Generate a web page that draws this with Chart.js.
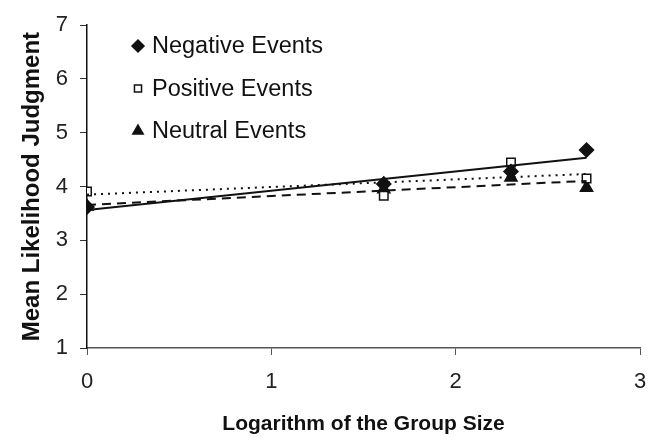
<!DOCTYPE html>
<html>
<head>
<meta charset="utf-8">
<script src="https://cdn.jsdelivr.net/npm/chart.js@4.4.1/dist/chart.umd.min.js"></script>
<style>
  html, body { margin: 0; padding: 0; background: #fff; }
  #wrap { width: 661px; height: 441px; }
</style>
</head>
<body>
<div id="wrap"><canvas id="chart" width="661" height="441"></canvas></div>
<script>
// log of group size (ln 1, ln 5, ln 10, ln 15)
const logSize = [0, 1.61, 2.3, 2.71];
const negative = [3.62, 4.05, 4.28, 4.68];
const positive = [3.91, 3.83, 4.45, 4.15];
const neutral = [3.63, 3.95, 4.17, 3.98];
const seriesNames = ['Negative Events', 'Positive Events', 'Neutral Events'];
const xTicks = [0, 1, 2, 3];
const yTicks = [1, 2, 3, 4, 5, 6, 7];

// least squares trend line, like Excel's linear trendline
function trend(xs, ys) {
  const n = xs.length;
  const mx = xs.reduce((a, b) => a + b, 0) / n;
  const my = ys.reduce((a, b) => a + b, 0) / n;
  let sxy = 0, sxx = 0;
  for (let i = 0; i < n; i++) {
    sxy += (xs[i] - mx) * (ys[i] - my);
    sxx += (xs[i] - mx) * (xs[i] - mx);
  }
  const b = sxy / sxx, a = my - b * mx;
  const x0 = Math.min(...xs), x1 = Math.max(...xs);
  return [{ x: x0, y: a + b * x0 }, { x: x1, y: a + b * x1 }];
}

const pts = ys => logSize.map((x, i) => ({ x: x, y: ys[i] }));

const markerStyles = [
  { pointStyle: 'rectRot', pointRadius: 7, pointBackgroundColor: '#111' },
  { pointStyle: 'rect', pointRadius: 6, pointBackgroundColor: '#fff' },
  { pointStyle: 'triangle', pointRadius: 7, pointBackgroundColor: '#111' }
];

// legend drawn inside the plot area, top left
const innerLegend = {
  id: 'innerLegend',
  afterDraw(chart) {
    const ctx = chart.ctx;
    ctx.save();
    ctx.font = '23.5px "Liberation Sans", Arial, sans-serif';
    ctx.textBaseline = 'middle';
    seriesNames.forEach((name, i) => {
      const y = 46 + i * 42.5;
      const m = markerStyles[i];
      ctx.fillStyle = m.pointBackgroundColor;
      ctx.strokeStyle = '#111';
      ctx.lineWidth = 1.5;
      Chart.helpers.drawPoint(ctx, {
        pointStyle: m.pointStyle,
        radius: m.pointRadius - 1,
        rotation: 0,
        borderWidth: 1.5
      }, 138, y);
      ctx.fillStyle = '#111';
      ctx.fillText(name, 152, y + 1);
    });
    ctx.restore();
  }
};

const lineStyles = [[], [2, 5], [9, 6]];
const seriesData = [negative, positive, neutral];

const datasets = [];
seriesData.forEach((ys, i) => {
  datasets.push({
    type: 'line',
    label: seriesNames[i] + ' trend',
    data: trend(logSize, ys),
    borderColor: '#111',
    borderWidth: 2,
    borderDash: lineStyles[i],
    pointRadius: 0,
    fill: false
  });
});
seriesData.forEach((ys, i) => {
  datasets.push(Object.assign({
    type: 'scatter',
    label: seriesNames[i],
    data: pts(ys),
    borderColor: '#111',
    borderWidth: 1.5
  }, markerStyles[i]));
});

new Chart(document.getElementById('chart'), {
  data: { datasets: datasets },
  options: {
    responsive: false,
    animation: false,
    layout: { padding: { top: 22, right: 21, left: 0, bottom: 0 } },
    plugins: { legend: { display: false }, tooltip: { enabled: false } },
    scales: {
      x: {
        type: 'linear',
        min: 0, max: 3,
        afterFit: s => { s.height = 93; },
        afterBuildTicks: s => { s.ticks = xTicks.map(v => ({ value: v })); },
        border: { display: true, color: '#555', width: 1.5 },
        grid: { drawOnChartArea: false, drawTicks: true, tickLength: 7, color: '#555' },
        ticks: { color: '#222', padding: 14, font: { size: 22, family: '"Liberation Sans", Arial, sans-serif' } },
        title: {
          display: true,
          text: 'Logarithm of the Group Size',
          color: '#111',
          padding: { top: 4, bottom: 4 },
          font: { size: 21, weight: 'bold', family: '"Liberation Sans", Arial, sans-serif' }
        }
      },
      y: {
        type: 'linear',
        min: 1, max: 7,
        afterFit: s => { s.width = 87; },
        afterBuildTicks: s => { s.ticks = yTicks.map(v => ({ value: v })); },
        border: { display: true, color: '#111', width: 1.5 },
        grid: { drawOnChartArea: false, drawTicks: true, tickLength: 7, color: '#333' },
        ticks: { color: '#222', padding: 12, font: { size: 22, family: '"Liberation Sans", Arial, sans-serif' } },
        title: {
          display: true,
          text: 'Mean Likelihood Judgment',
          color: '#111',
          padding: { top: 18, bottom: 4 },
          font: { size: 24, weight: 'bold', family: '"Liberation Sans", Arial, sans-serif' }
        }
      }
    }
  },
  plugins: [innerLegend]
});
</script>
</body>
</html>
